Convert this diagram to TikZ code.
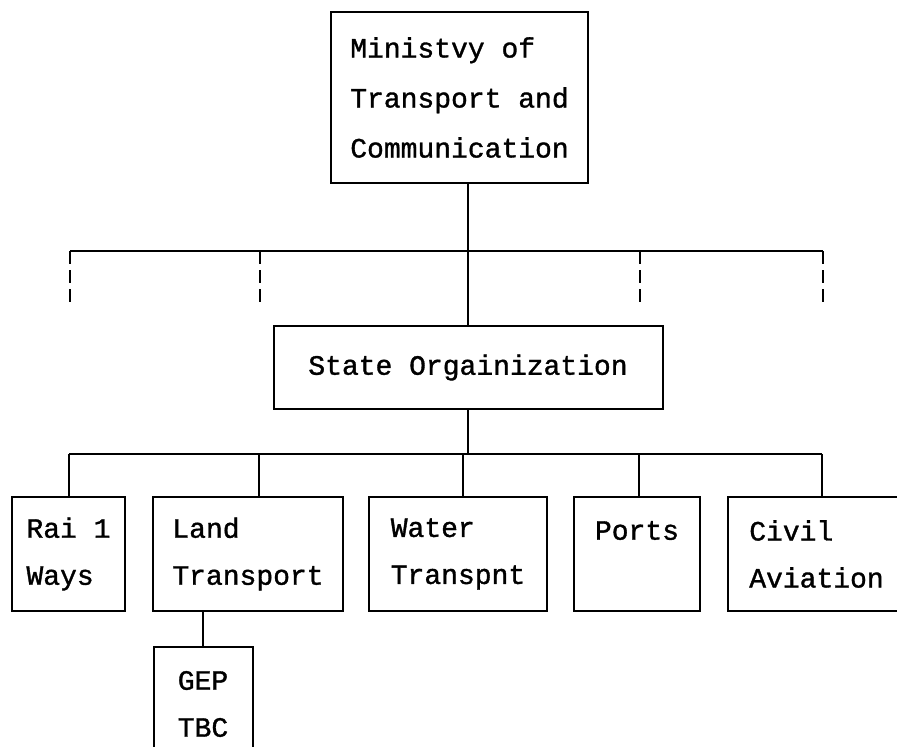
\documentclass[tikz,border=0pt]{standalone}
\usepackage{fontspec}
\setmonofont[FakeBold=1.2]{Liberation Mono}
\usetikzlibrary{positioning}

\begin{document}
\begin{tikzpicture}[x=1pt,y=-1pt,
  every node/.style={font=\ttfamily\fontsize{28}{47}\selectfont},
  org/.style={draw,line width=2pt,align=left,inner sep=0pt},
  link/.style={line width=1.8pt},
  stub/.style={line width=1.8pt,dash pattern=on 13pt off 6pt}]
 \useasboundingbox (0,0) rectangle (897,747);
 \clip (0,0) rectangle (897,747);
 % top and middle boxes
 \node[org,minimum width=257pt,minimum height=171pt,font=\ttfamily\fontsize{28}{50}\selectfont] (ministry) at (459.5,97.5) {Ministvy of\\Transport and\\Communication};
 \node[org,minimum width=389pt,minimum height=83pt] (state) at (468,367.5) {State Orgainization};
 % bottom row
 \node[org,minimum width=113pt,minimum height=114pt] (rail)  at (68.5,554)  {Rai 1\\Ways};
 \node[org,minimum width=190pt,minimum height=114pt] (land)  at (248,554)   {Land\\Transport};
 \node[org,minimum width=178pt,minimum height=114pt] (water) at (458,554)   {Water\\Transpnt};
 \node[org,minimum width=126pt,minimum height=114pt] (ports) at (637,554)   {Ports\\\phantom{Ports}};
 \node[org,minimum width=177pt,minimum height=114pt] (civil) at (816.5,554) {Civil\\Aviation};
 \node[org,minimum width=99pt,minimum height=114pt]  (gep)   at (203,704)   {GEP\\TBC};
 % dashed branches under the ministry
 \coordinate (s1) at (70,251);  \coordinate (s2) at (260,251);
 \coordinate (s3) at (640,251); \coordinate (s4) at (823,251);
 \draw[link] (s1) -- (s4);
 \foreach \s in {s1,s2,s3,s4} \draw[stub] (\s) -- ++(0,51);
 \draw[link] (state.north) -- (state.north |- ministry.south);
 % branches under the state organization
 \coordinate (d1) at (69,454);  \coordinate (d2) at (259,454);
 \coordinate (d3) at (463,454); \coordinate (d4) at (639,454);
 \coordinate (d5) at (822,454);
 \draw[link] (d1) -- (d5);
 \draw[link] (state.south) -- (state.south |- d1);
 \foreach \d/\b in {d1/rail,d2/land,d3/water,d4/ports,d5/civil}
   \draw[link] (\d) -- (\d |- \b.north);
 \draw[link] (gep.north) -- (gep.north |- land.south);
\end{tikzpicture}
\end{document}
